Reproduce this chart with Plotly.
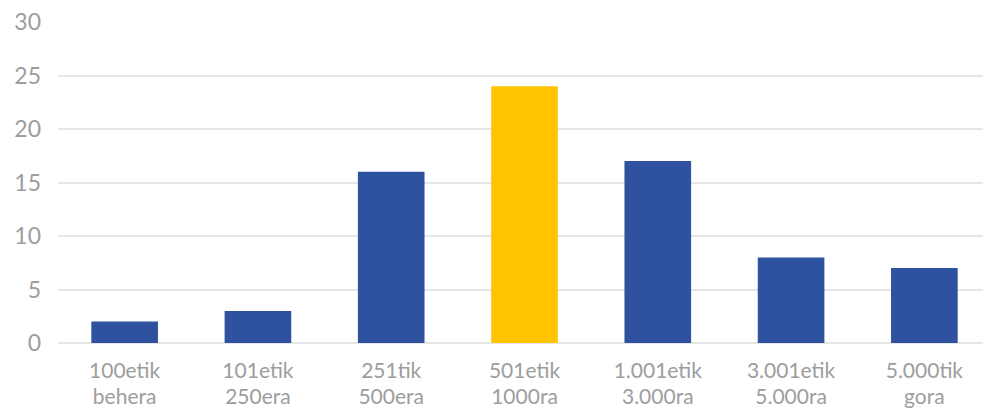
import plotly.graph_objects as go

labels_line1 = ["100etik", "101etik", "251tik", "501etik", "1.001etik", "3.001etik", "5.000tik"]
labels_line2 = ["behera", "250era", "500era", "1000ra", "3.000ra", "5.000ra", "gora"]
values = [2, 3, 16, 24, 17, 8, 7]
highlight_index = 3
y_ticks = [0, 5, 10, 15, 20, 25, 30]

blue = "#2E52A0"
yellow = "#FFC300"
colors = [yellow if i == highlight_index else blue for i in range(len(values))]
xs = list(range(len(values)))

fig = go.Figure(go.Bar(x=xs, y=values, marker_color=colors,
                       marker_line_width=0, width=0.5))
# invisible trace to activate the second x axis (second label line)
fig.add_trace(go.Scatter(x=xs, y=[None] * len(xs), xaxis="x2", showlegend=False,
                         hoverinfo="skip"))

xfont = dict(family="Lato", size=21, color="#9d9d9d")

fig.update_layout(
    width=983, height=413,
    margin=dict(l=58, r=0, t=22, b=70),
    paper_bgcolor="white", plot_bgcolor="white",
    font=dict(family="Lato", size=23, color="#9d9d9d"),
    showlegend=False,
    xaxis=dict(tickmode="array", tickvals=xs, ticktext=labels_line1, tickfont=xfont,
               range=[-0.5, 6.44], showgrid=False, zeroline=False, showline=False,
               ticks="", ticklabelstandoff=13),
    xaxis2=dict(tickmode="array", tickvals=xs, ticktext=labels_line2, tickfont=xfont,
                overlaying="x", side="bottom", range=[-0.5, 6.44], showgrid=False,
                zeroline=False, showline=False, ticks="", ticklabelstandoff=39),
    yaxis=dict(range=[0, 30], tickvals=y_ticks, showgrid=True, gridcolor="#e6e6e6",
               gridwidth=2, zeroline=True, zerolinecolor="#e6e6e6", zerolinewidth=2,
               showline=False, ticks="", ticklabelstandoff=16),
)

fig.write_html("out.html")
